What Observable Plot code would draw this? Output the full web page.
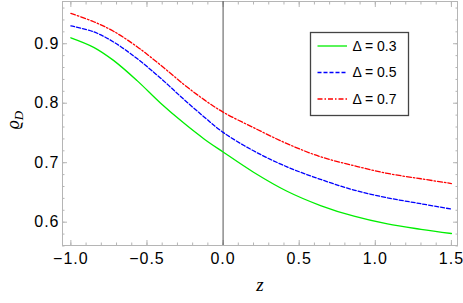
<!DOCTYPE html>
<html>
<head>
<meta charset="utf-8">
<script src="https://cdn.jsdelivr.net/npm/d3@7"></script>
<script src="https://cdn.jsdelivr.net/npm/@observablehq/plot@0.6"></script>
<style>
  html, body { margin: 0; padding: 0; background: white; }
</style>
</head>
<body>
<div id="chart"></div>
<script>
const zValues = [-1.0, -0.85, -0.72, -0.565, -0.41, -0.26, -0.125, 0, 0.2, 0.42, 0.64, 0.86, 1.08, 1.3, 1.5];
const rhoD03 = [0.910, 0.894, 0.872, 0.838, 0.800, 0.767, 0.740, 0.718, 0.684, 0.652, 0.628, 0.610, 0.597, 0.588, 0.581];
const rhoD05 = [0.930, 0.920, 0.903, 0.875, 0.842, 0.807, 0.777, 0.751, 0.720, 0.693, 0.672, 0.654, 0.641, 0.631, 0.622];
const rhoD07 = [0.951, 0.937, 0.921, 0.895, 0.864, 0.832, 0.806, 0.785, 0.759, 0.732, 0.710, 0.695, 0.682, 0.673, 0.665];
const seriesLabels = ["Δ = 0.3", "Δ = 0.5", "Δ = 0.7"];
const xMajorTicks = [-1.0, -0.5, 0.0, 0.5, 1.0, 1.5];
const xMinorTicks = [-1.0,-0.9,-0.8,-0.7,-0.6,-0.5,-0.4,-0.3,-0.2,-0.1,0,0.1,0.2,0.3,0.4,0.5,0.6,0.7,0.8,0.9,1.0,1.1,1.2,1.3,1.4,1.5];
const yMajorTicks = [0.6, 0.7, 0.8, 0.9];
const yMinorTicks = [0.56,0.58,0.6,0.62,0.64,0.66,0.68,0.7,0.72,0.74,0.76,0.78,0.8,0.82,0.84,0.86,0.88,0.9,0.92,0.94,0.96];

const series = [rhoD03, rhoD05, rhoD07];
const colors = ["#00ee00", "#0000ff", "#ff0000"];
const dashes = [null, "4,2", "5,2,1.5,2"];
const data = series.map((vals, i) => zValues.map((z, j) => ({z, r: vals[j], s: seriesLabels[i]})));

const frameColor = "#b5b5b5";
const fmt = d => d.toFixed(1).replace("-", "\u2212");

const plot = Plot.plot({
  width: 463,
  height: 303,
  marginLeft: 62,
  marginRight: 6,
  marginTop: 1,
  marginBottom: 58,
  style: {fontFamily: "'Liberation Sans', Arial, sans-serif", background: "white"},
  x: {domain: [-1.055, 1.54], label: null},
  y: {domain: [0.5608, 0.971], label: null},
  marks: [
    Plot.frame({stroke: frameColor}),
    Plot.axisX({anchor: "bottom", ticks: xMinorTicks, tickSize: -2.5, tickFormat: () => "", stroke: frameColor, label: null}),
    Plot.axisX({anchor: "top", ticks: xMinorTicks, tickSize: -2.5, tickFormat: () => "", stroke: frameColor, label: null}),
    Plot.axisY({anchor: "left", ticks: yMinorTicks, tickSize: -2.5, tickFormat: () => "", stroke: frameColor, label: null}),
    Plot.axisY({anchor: "right", ticks: yMinorTicks, tickSize: -2.5, tickFormat: () => "", stroke: frameColor, label: null}),
    Plot.axisX({anchor: "bottom", ticks: xMajorTicks, tickSize: -5, tickFormat: () => "", stroke: frameColor, label: null}),
    Plot.axisX({anchor: "top", ticks: xMajorTicks, tickSize: -5, tickFormat: () => "", stroke: frameColor, label: null}),
    Plot.axisY({anchor: "left", ticks: yMajorTicks, tickSize: -5, tickFormat: () => "", stroke: frameColor, label: null}),
    Plot.axisY({anchor: "right", ticks: yMajorTicks, tickSize: -5, tickFormat: () => "", stroke: frameColor, label: null}),
    Plot.axisX({anchor: "bottom", ticks: xMajorTicks, tickSize: 0, tickPadding: 7, tickFormat: fmt, fontSize: 16, fill: "black", label: null, className: "xlab"}),
    Plot.axisY({anchor: "left", ticks: yMajorTicks, tickSize: 0, tickPadding: 3, tickFormat: d => d.toFixed(1), fontSize: 16, fill: "black", label: null, className: "ylab"}),
    Plot.ruleX([0], {stroke: "#555", strokeWidth: 1}),
    ...data.map((d, i) => Plot.line(d, {x: "z", y: "r", stroke: colors[i], strokeWidth: 1.3, strokeDasharray: dashes[i], curve: "catmull-rom"}))
  ]
});

document.getElementById("chart").appendChild(plot);

const svg = d3.select(plot);
svg.selectAll(".xlab text, .ylab text").style("letter-spacing", "1px").style("font-size", "16px");

svg.append("text")
  .attr("x", 260).attr("y", 291)
  .attr("text-anchor", "middle")
  .style("font-family", "'Liberation Serif', 'DejaVu Serif', serif")
  .style("font-style", "italic")
  .style("font-size", "19px")
  .text("z");
const yl = svg.append("text")
  .attr("transform", "translate(19,120) rotate(-90)")
  .attr("text-anchor", "middle")
  .style("font-family", "'Liberation Serif', 'DejaVu Serif', serif")
  .style("font-style", "italic")
  .style("font-size", "18px");
yl.append("tspan").text("ϱ");
yl.append("tspan").attr("dy", 4).style("font-size", "13px").text("D");

const lg = svg.append("g");
lg.append("rect")
  .attr("x", 310.5).attr("y", 32.5).attr("width", 98).attr("height", 83)
  .attr("fill", "white").attr("stroke", "#444").attr("stroke-width", 1.3);
const rowY = [46, 72.5, 99];
seriesLabels.forEach((lab, i) => {
  lg.append("line")
    .attr("x1", 317.5).attr("x2", 347).attr("y1", rowY[i]).attr("y2", rowY[i])
    .attr("stroke", colors[i]).attr("stroke-width", 1.3)
    .attr("stroke-dasharray", dashes[i]);
  lg.append("text")
    .attr("x", 352.5).attr("y", rowY[i]).attr("dy", "0.35em")
    .attr("text-anchor", "start")
    .style("font-family", "'Liberation Sans', Arial, sans-serif")
    .style("font-size", "14px")
    .text(lab);
});
</script>
</body>
</html>
